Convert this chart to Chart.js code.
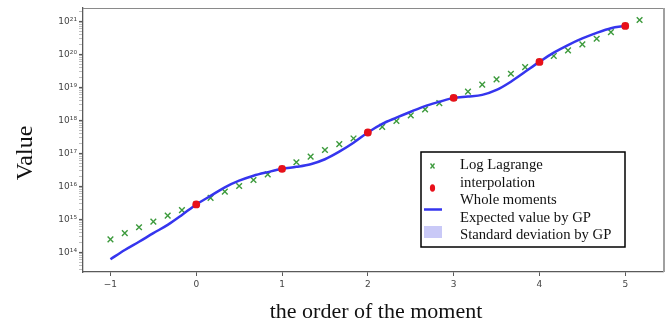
<!DOCTYPE html>
<html>
<head>
<meta charset="utf-8">
<script src="https://cdn.jsdelivr.net/npm/chart.js@4.4.0/dist/chart.umd.min.js"></script>
<style>
    html, body { margin: 0; padding: 0; background: #fff; }
    #wrap { width: 672px; height: 325px; }
</style>
</head>
<body>
<div id="wrap"><canvas id="momentChart" width="672" height="325"></canvas></div>
<script>
    // order of the moment (x) for the fine grid, steps of 1/6
    const xFine = [-1, -0.833, -0.667, -0.5, -0.333, -0.167,
        0, 0.167, 0.333, 0.5, 0.667, 0.833,
        1, 1.167, 1.333, 1.5, 1.667, 1.833,
        2, 2.167, 2.333, 2.5, 2.667, 2.833,
        3, 3.167, 3.333, 3.5, 3.667, 3.833,
        4, 4.167, 4.333, 4.5, 4.667, 4.833,
        5, 5.167];
    // log10 of the values
    const lagrangeLog = [14.39, 14.58, 14.76, 14.93, 15.11, 15.28,
        15.45, 15.65, 15.84, 16.01, 16.19, 16.36,
        16.53, 16.73, 16.90, 17.10, 17.28, 17.45,
        17.63, 17.80, 17.98, 18.15, 18.33, 18.52,
        18.68, 18.87, 19.08, 19.24, 19.41, 19.61,
        19.77, 19.95, 20.12, 20.30, 20.47, 20.67,
        20.86, 21.04];
    const gpMeanLog = [13.79, 14.07, 14.32, 14.58, 14.83, 15.13,
        15.45, 15.71, 15.97, 16.17, 16.32, 16.43,
        16.53, 16.59, 16.67, 16.82, 17.05, 17.32,
        17.63, 17.89, 18.08, 18.26, 18.43, 18.56,
        18.68, 18.72, 18.77, 18.92, 19.17, 19.47,
        19.77, 20.05, 20.28, 20.48, 20.65, 20.79,
        20.86];
    const xWhole = [0, 1, 2, 3, 4, 5];
    const wholeLog = [15.45, 16.53, 17.63, 18.68, 19.77, 20.86];

    const xTicks = [-1, 0, 1, 2, 3, 4, 5];
    const yTickExp = [14, 15, 16, 17, 18, 19, 20, 21];

    const SUP = {'0': '\u2070', '1': '\u00b9', '2': '\u00b2', '3': '\u00b3', '4': '\u2074',
        '5': '\u2075', '6': '\u2076', '7': '\u2077', '8': '\u2078', '9': '\u2079', '-': '\u207b'};

    function toPoints(xs, logs) {
        return logs.map(function (e, i) { return {x: xs[i], y: Math.pow(10, e)}; });
    }

    function isDecade(v) {
        var l = Math.log10(v);
        return Math.abs(l - Math.round(l)) < 1e-6;
    }

    // frame, axis titles and the boxed legend
    const extras = {
        id: 'extras',
        afterDraw: function (chart) {
            const ctx = chart.ctx;
            const a = chart.chartArea;
            ctx.save();
            // top and right edges of the frame
            ctx.strokeStyle = '#8a8a8a';
            ctx.lineWidth = 1;
            ctx.beginPath();
            ctx.moveTo(a.left, a.top + 0.5);
            ctx.lineTo(a.right, a.top + 0.5);
            ctx.stroke();
            ctx.strokeStyle = '#a0a0a0';
            ctx.lineWidth = 2;
            ctx.beginPath();
            ctx.moveTo(a.right + 1, a.top);
            ctx.lineTo(a.right + 1, a.bottom);
            ctx.stroke();

            // axis titles
            ctx.fillStyle = '#111';
            ctx.font = '22px "Liberation Serif", "DejaVu Serif", serif';
            ctx.textAlign = 'center';
            ctx.textBaseline = 'alphabetic';
            ctx.fillText('the order of the moment', 376, 318);
            ctx.save();
            ctx.translate(32, 153);
            ctx.rotate(-Math.PI / 2);
            ctx.font = '24px "Liberation Serif", "DejaVu Serif", serif';
            ctx.fillText('Value', 0, 0);
            ctx.restore();

            // legend box
            const bx = 421, by = 152, bw = 204, bh = 95;
            ctx.fillStyle = '#fff';
            ctx.fillRect(bx, by, bw, bh);
            ctx.strokeStyle = '#000';
            ctx.lineWidth = 1.5;
            ctx.strokeRect(bx, by, bw, bh);

            // markers
            ctx.strokeStyle = '#3c9a3c';
            ctx.lineWidth = 1.3;
            ctx.beginPath();
            ctx.moveTo(430.5, 163.5); ctx.lineTo(434.5, 168.5);
            ctx.moveTo(434.5, 163.5); ctx.lineTo(430.5, 168.5);
            ctx.stroke();
            ctx.fillStyle = '#e8101a';
            ctx.beginPath();
            ctx.ellipse(432.5, 188, 2.6, 3.8, 0, 0, Math.PI * 2);
            ctx.fill();
            ctx.strokeStyle = '#3535ee';
            ctx.lineWidth = 2.5;
            ctx.beginPath();
            ctx.moveTo(424, 209.5);
            ctx.lineTo(442, 209.5);
            ctx.stroke();
            ctx.fillStyle = 'rgba(120, 120, 235, 0.4)';
            ctx.fillRect(424, 226, 18, 12);

            // legend text
            ctx.fillStyle = '#111';
            ctx.font = '14.7px "Liberation Serif", "DejaVu Serif", serif';
            ctx.textAlign = 'left';
            ctx.fillText('Log Lagrange', 460, 169);
            ctx.fillText('interpolation', 460, 186.5);
            ctx.fillText('Whole moments', 460, 204);
            ctx.fillText('Expected value by GP', 460, 221.5);
            ctx.fillText('Standard deviation by GP', 460, 239);
            ctx.restore();
        }
    };

    const ctx = document.getElementById('momentChart');
    const momentChart = new Chart(ctx, {
        type: 'scatter',
        data: {
            datasets: [{
                label: 'Whole moments',
                data: toPoints(xWhole, wholeLog),
                pointStyle: 'circle',
                pointRadius: 3.9,
                backgroundColor: '#e8101a',
                borderColor: '#e8101a',
                borderWidth: 0,
                order: 0,
            }, {
                label: 'Expected value by GP',
                type: 'line',
                data: toPoints(xFine, gpMeanLog),
                borderColor: '#3535ee',
                borderWidth: 2.5,
                pointRadius: 0,
                fill: false,
                cubicInterpolationMode: 'monotone',
                order: 1,
            }, {
                label: 'Log Lagrange interpolation',
                data: toPoints(xFine, lagrangeLog),
                pointStyle: 'crossRot',
                pointRadius: 4,
                borderColor: '#3c9a3c',
                borderWidth: 1.4,
                order: 2,
            }]
        },
        options: {
            responsive: false,
            animation: false,
            events: [],
            layout: {
                padding: {top: 8, right: 9, left: 0, bottom: 0}
            },
            plugins: {
                legend: {display: false},
                tooltip: {enabled: false},
            },
            scales: {
                x: {
                    type: 'linear',
                    min: -1.32,
                    max: 5.44,
                    bounds: 'data',
                    afterFit: function (scale) { scale.height = 53; },
                    afterBuildTicks: function (scale) {
                        scale.ticks = xTicks.map(function (v) { return {value: v}; });
                    },
                    border: {display: true, color: '#5a5a5a', width: 1.3},
                    grid: {
                        display: true,
                        drawOnChartArea: false,
                        drawTicks: true,
                        tickLength: 4,
                        tickColor: '#5a5a5a',
                    },
                    ticks: {
                        autoSkip: false,
                        maxRotation: 0,
                        padding: 3,
                        color: '#444',
                        font: {family: '"DejaVu Sans", sans-serif', size: 9},
                        callback: function (v) {
                            return v < 0 ? '\u2212' + Math.abs(v) : String(v);
                        }
                    }
                },
                y: {
                    type: 'logarithmic',
                    min: Math.pow(10, 13.403),
                    max: Math.pow(10, 21.403),
                    bounds: 'data',
                    afterFit: function (scale) { scale.width = 83; },
                    afterBuildTicks: function (scale) {
                        var t = [];
                        for (var e = 13; e <= 21; e++) {
                            for (var m = 1; m <= 9; m++) {
                                var v = m * Math.pow(10, e);
                                if (v >= scale.min && v <= scale.max) t.push({value: v});
                            }
                        }
                        scale.ticks = t;
                    },
                    border: {display: true, color: '#5a5a5a', width: 1.3},
                    grid: {
                        display: true,
                        drawOnChartArea: false,
                        drawTicks: true,
                        tickLength: 4,
                        tickColor: function (c) {
                            return c.tick && isDecade(c.tick.value) ? '#5a5a5a' : '#b0b0b0';
                        },
                        tickWidth: function (c) {
                            return c.tick && isDecade(c.tick.value) ? 1.2 : 0.8;
                        },
                    },
                    ticks: {
                        autoSkip: false,
                        padding: 2,
                        color: '#444',
                        font: {family: '"DejaVu Sans", sans-serif', size: 9},
                        callback: function (v) {
                            if (!isDecade(v)) return '';
                            var e = Math.round(Math.log10(v));
                            if (yTickExp.indexOf(e) < 0) return '';
                            return '10' + String(e).split('').map(function (d) { return SUP[d]; }).join('');
                        }
                    }
                }
            }
        },
        plugins: [extras]
    });
</script>
</body>
</html>
